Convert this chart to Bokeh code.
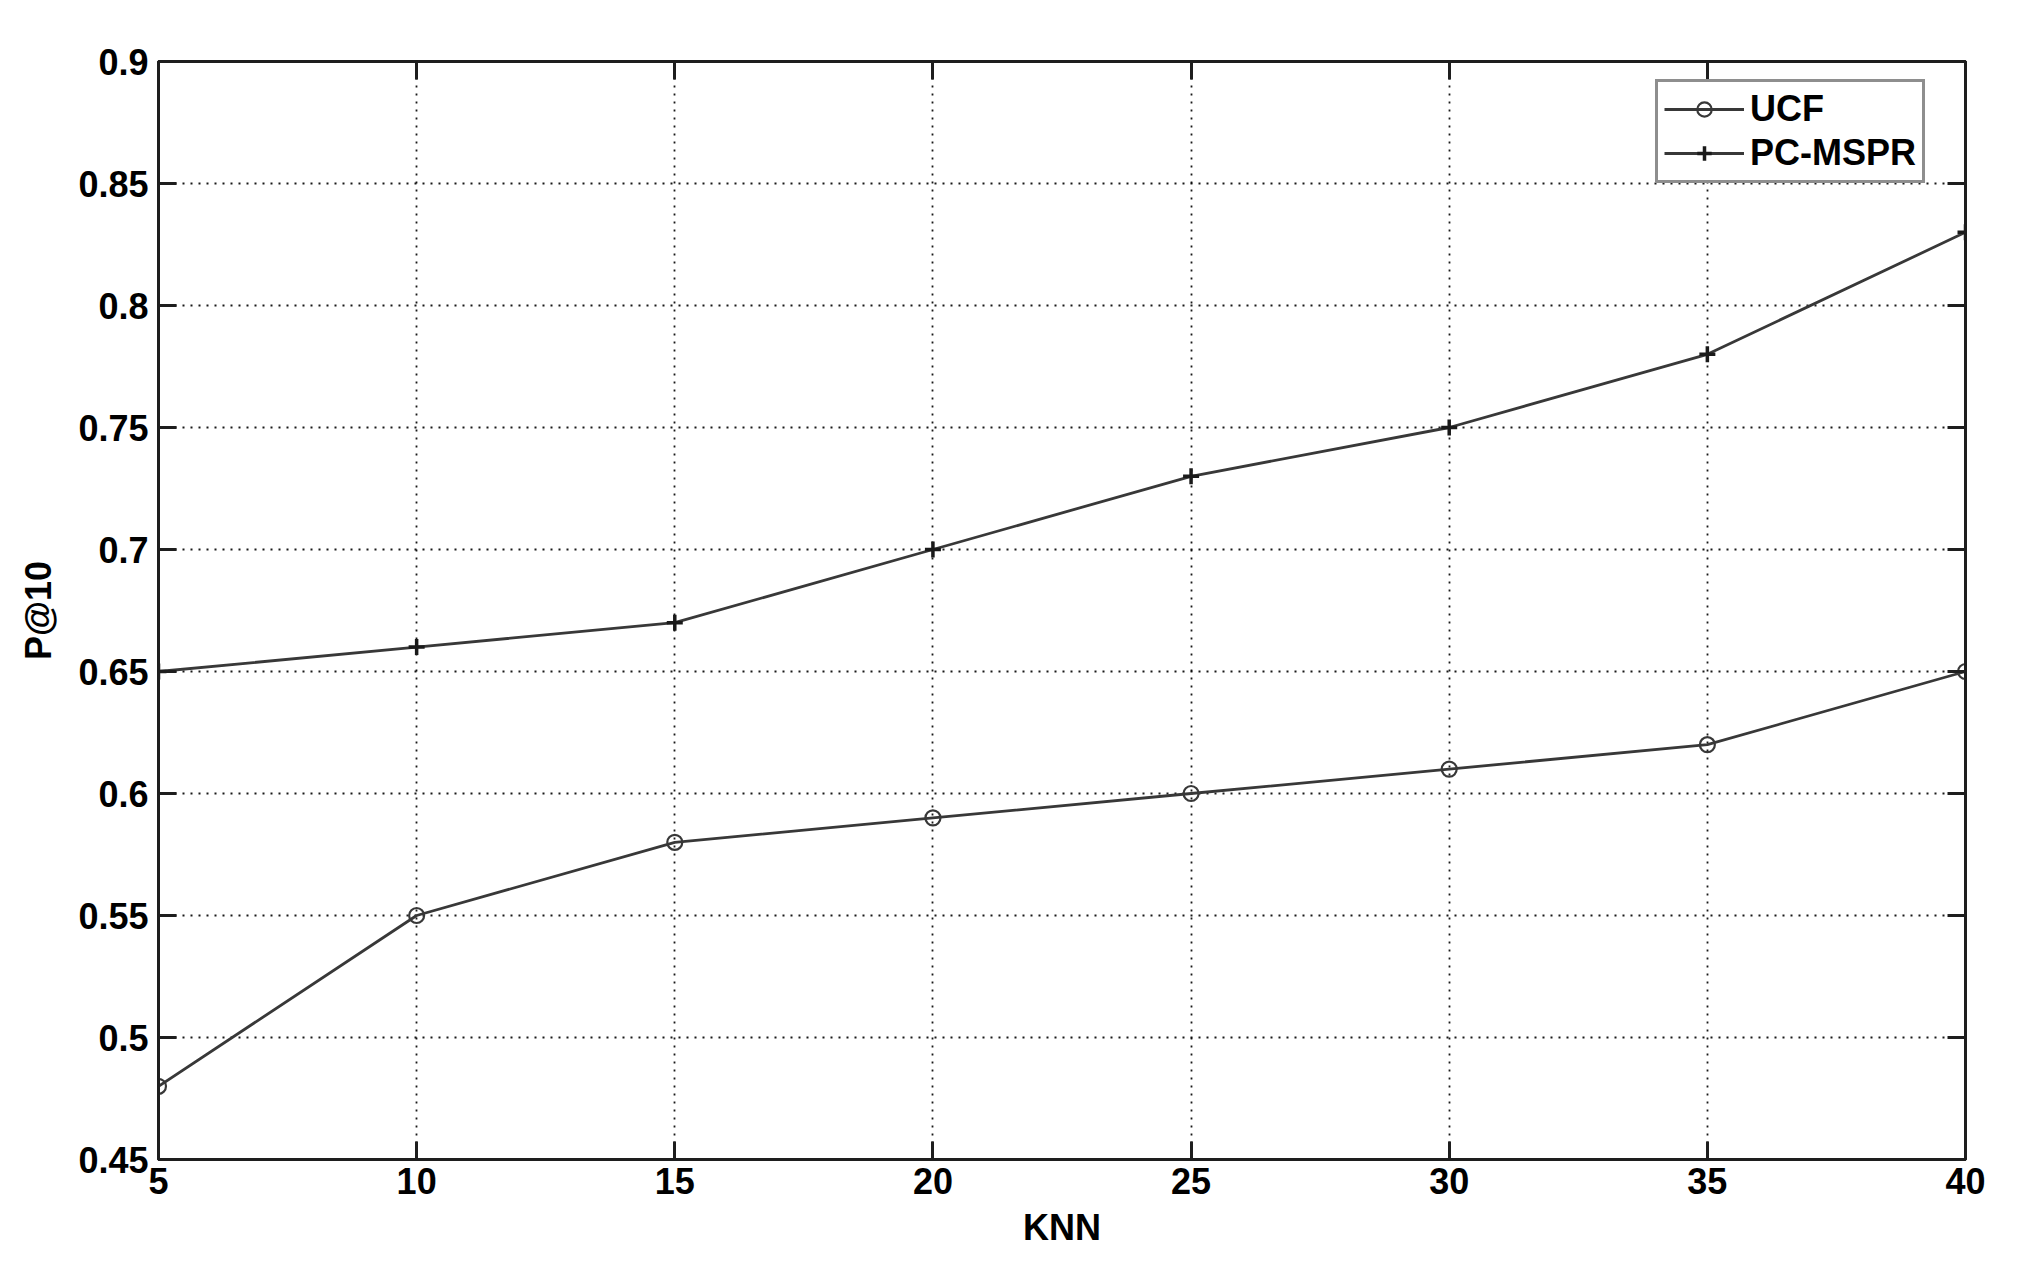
from bokeh.plotting import figure
from bokeh.models import (Range1d, FixedTicker, LinearAxis, Legend, LegendItem,
                          CustomJSTickFormatter)
from bokeh.embed import file_html
from bokeh.resources import INLINE

knn = [5, 10, 15, 20, 25, 30, 35, 40]
ucf = [0.48, 0.55, 0.58, 0.59, 0.60, 0.61, 0.62, 0.65]
pc_mspr = [0.65, 0.66, 0.67, 0.70, 0.73, 0.75, 0.78, 0.83]
x_ticks = [5, 10, 15, 20, 25, 30, 35, 40]
y_ticks = [0.45, 0.5, 0.55, 0.6, 0.65, 0.7, 0.75, 0.8, 0.85, 0.9]

FONT = "Liberation Sans"
AX = "#1e1e1e"
LINE = "#383838"

p = figure(frame_width=1807, frame_height=1098,
           min_border_left=158, min_border_top=61, min_border_right=50, min_border_bottom=100,
           x_range=Range1d(5, 40), y_range=Range1d(0.45, 0.9),
           output_backend="svg", toolbar_location=None,
           background_fill_color="white", border_fill_color="white")

p.outline_line_color = AX
p.outline_line_width = 3

fmt = CustomJSTickFormatter(code="var s = tick.toFixed(2); s = s.replace(/0+$/, ''); return s.replace(/\\.$/, '');")

for ax in [p.xaxis[0], p.yaxis[0]]:
    ax.axis_line_color = AX
    ax.axis_line_width = 3
    ax.major_tick_in = 18
    ax.major_tick_out = 0
    ax.major_tick_line_color = AX
    ax.major_tick_line_width = 3
    ax.minor_tick_line_color = None
    ax.major_label_text_font = FONT
    ax.major_label_text_font_style = "bold"
    ax.major_label_text_font_size = "36px"
    ax.major_label_text_color = "black"
    ax.axis_label_text_font = FONT
    ax.axis_label_text_font_style = "bold"
    ax.axis_label_text_font_size = "36px"
    ax.axis_label_text_color = "black"

p.xaxis.ticker = FixedTicker(ticks=x_ticks)
p.yaxis.ticker = FixedTicker(ticks=y_ticks)
p.yaxis.formatter = fmt
p.xaxis.axis_label = "KNN"
p.yaxis.axis_label = "P@10"
p.xaxis.major_label_standoff = 8
p.yaxis.major_label_standoff = 10
p.xaxis.axis_label_standoff = 10
p.yaxis.axis_label_standoff = 16

blank = CustomJSTickFormatter(code="return '';")
for side, ticks in [("above", x_ticks), ("right", y_ticks)]:
    ax2 = LinearAxis(ticker=FixedTicker(ticks=ticks), formatter=blank)
    ax2.axis_line_color = AX
    ax2.axis_line_width = 3
    ax2.major_tick_in = 18
    ax2.major_tick_out = 0
    ax2.major_tick_line_color = AX
    ax2.major_tick_line_width = 3
    ax2.minor_tick_line_color = None
    ax2.major_label_standoff = 0
    p.add_layout(ax2, side)

for g in [p.xgrid[0], p.ygrid[0]]:
    g.grid_line_color = "black"
    g.grid_line_alpha = 0.9
    g.grid_line_width = 1.8
    g.grid_line_dash = "2 6"

l1 = p.line(knn, ucf, line_color=LINE, line_width=2.8)
m1 = p.scatter(knn, ucf, marker="circle", size=15, fill_color=None,
               line_color=LINE, line_width=2.2)
l2 = p.line(knn, pc_mspr, line_color=LINE, line_width=2.8)
m2 = p.scatter(knn, pc_mspr, marker="cross", size=16,
               line_color="#1a1a1a", line_width=3.5)

legend = Legend(items=[LegendItem(label="UCF", renderers=[l1, m1]),
                       LegendItem(label="PC-MSPR", renderers=[l2, m2])],
                location=(1497, 976))
legend.label_text_font = FONT
legend.label_text_font_style = "bold"
legend.label_text_font_size = "36px"
legend.label_text_color = "black"
legend.glyph_width = 80
legend.glyph_height = 36
legend.label_height = 36
legend.label_standoff = 6
legend.spacing = 2
legend.padding = 6
legend.margin = 0
legend.border_line_color = AX
legend.border_line_width = 3
legend.background_fill_color = "white"
legend.background_fill_alpha = 1
p.add_layout(legend, "center")

open("out.html", "w").write(file_html(p, INLINE))
